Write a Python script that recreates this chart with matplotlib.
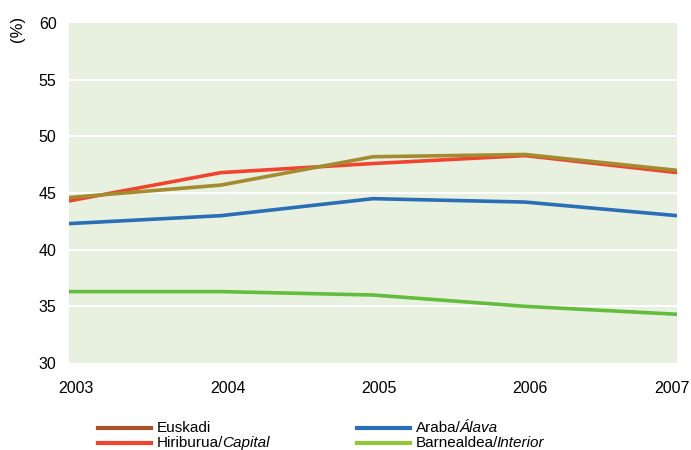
import matplotlib
matplotlib.use('Agg')
import matplotlib.pyplot as plt
from matplotlib.lines import Line2D
from matplotlib.transforms import offset_copy

plt.rcParams['font.family'] = ['Liberation Sans', 'DejaVu Sans']

years = [2003, 2004, 2005, 2006, 2007]
euskadi = [44.6, 45.7, 48.2, 48.4, 47.0]
capital = [44.3, 46.8, 47.6, 48.3, 46.8]
araba = [42.3, 43.0, 44.5, 44.2, 43.0]
interior = [36.3, 36.3, 36.0, 35.0, 34.3]

series = [
    # name, italic part, values, line colour, legend colour
    ('Euskadi', '', euskadi, '#a38b30', '#a6532a'),
    ('Hiriburua/', 'Capital', capital, '#f0442f', '#f0442f'),
    ('Araba/', 'Álava', araba, '#2a6fb5', '#2a6fb5'),
    ('Barnealdea/', 'Interior', interior, '#62bd3d', '#94c63c'),
]

W, H = 691, 450
fig = plt.figure(figsize=(W / 100, H / 100), dpi=100)
ax = fig.add_axes([69 / W, 1 - 363 / H, 608 / W, 340 / H])
ax.set_facecolor('#e8f0e0')

for name, ital, vals, col, _ in [series[3], series[2], series[1], series[0]]:
    ax.plot(years, vals, color=col, linewidth=2.6, solid_capstyle='butt', zorder=3)

ax.set_xlim(2003, 2007)
ax.set_ylim(30, 60)
ax.set_yticks(range(30, 61, 5))
ax.set_xticks(years)
ax.set_xticklabels([])
for y in range(35, 60, 5):
    ax.axhline(y, color='white', linewidth=1.5, zorder=1)
for s in ax.spines.values():
    s.set_visible(False)
ax.tick_params(length=0, labelsize=11.5)
ax.tick_params(axis='y', pad=9)

# year labels, nudged like in the original
shifts = [7, 7, 6, 5, -5]
for yr, dx in zip(years, shifts):
    tr = offset_copy(ax.get_xaxis_transform(), fig=fig, x=dx * 0.72, y=-13, units='points')
    ax.text(yr, 0, str(yr), transform=tr, ha='center', va='top', fontsize=11.5)

fig.text(18 / W, 1 - 29 / H, '(%)', rotation=90, ha='center', va='center', fontsize=12)

# legend drawn by hand so the italic parts can be set apart
fig.canvas.draw()
renderer = fig.canvas.get_renderer()
positions = [(98, 428), (98, 443), (357, 428), (357, 443)]
for (name, ital, vals, col, lcol), (x0, y0) in zip(series, positions):
    fig.add_artist(Line2D([x0 / W, (x0 + 53) / W], [1 - y0 / H, 1 - y0 / H],
                          color=lcol, linewidth=3))
    t = fig.text((x0 + 59) / W, 1 - y0 / H, name, fontsize=11, va='center')
    if ital:
        bb = t.get_window_extent(renderer)
        fig.text((bb.x1 - 1.5) / W, 1 - y0 / H, ital, fontsize=11, va='center', style='italic')

fig.savefig('out.png', dpi=100)
